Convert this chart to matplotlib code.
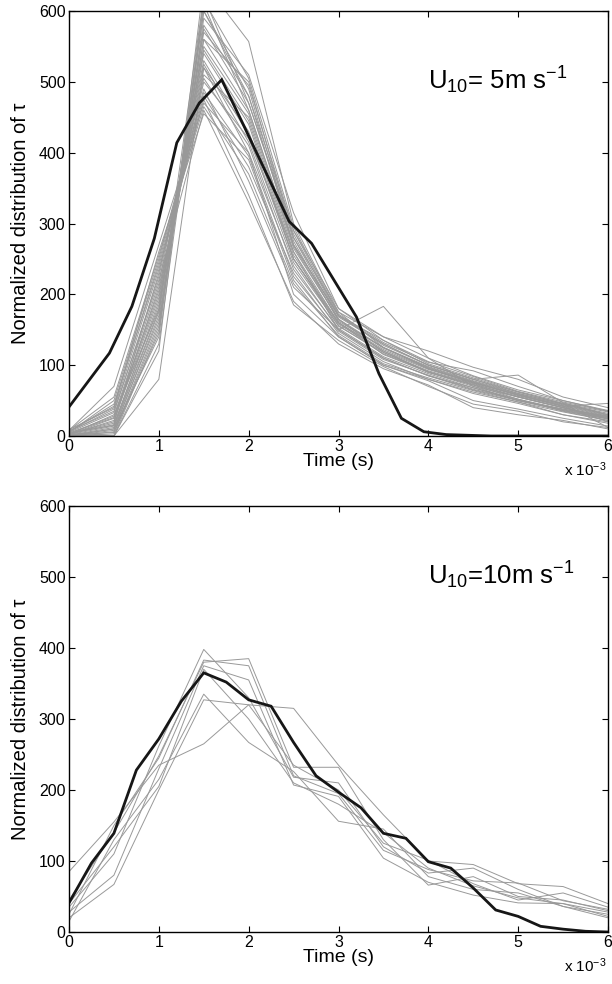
import matplotlib

matplotlib.use("Agg")
import matplotlib.pyplot as plt
import numpy as np

plt.rcParams["font.family"] = ["Liberation Sans", "DejaVu Sans"]
plt.rcParams["mathtext.fontset"] = "custom"
plt.rcParams["mathtext.rm"] = "Liberation Sans"
plt.rcParams["mathtext.it"] = "Liberation Sans:italic"
plt.rcParams["mathtext.default"] = "regular"

# time axis in units of 1e-3 s
t_gray = [0, 0.5, 1.0, 1.5, 2.0, 2.5, 3.0, 3.5, 4.0, 4.5, 5.0, 5.5, 6.0]

# U10 = 5 m/s : black curve
t_black_5 = [0, 0.45, 0.70, 0.95, 1.20, 1.45, 1.70, 1.95, 2.20, 2.45, 2.70, 2.95,
             3.20, 3.45, 3.70, 3.95, 4.20, 4.45, 4.70, 5.0, 5.5, 6.0]
black_5 = [41, 117, 183, 279, 414, 470, 503, 437, 370, 303, 272, 220,
           168, 88, 25, 6, 2, 1, 0, 0, 0, 0]

gray_5 = [
    [5, 0, 80, 520, 430, 250, 160, 120, 90, 70, 55, 40, 25],
    [0, 10, 140, 610, 460, 270, 170, 130, 100, 80, 60, 45, 30],
    [2, 30, 180, 580, 480, 290, 180, 140, 110, 85, 65, 50, 35],
    [8, 70, 270, 470, 400, 240, 150, 110, 85, 65, 50, 38, 28],
    [0, 0, 120, 640, 557, 300, 175, 125, 95, 75, 58, 42, 20],
    [3, 20, 210, 500, 420, 260, 160, 115, 90, 72, 52, 35, 22],
    [6, 45, 240, 480, 380, 230, 145, 105, 80, 62, 48, 30, 18],
    [1, 5, 160, 560, 500, 280, 165, 125, 98, 78, 60, 45, 32],
    [4, 15, 190, 540, 440, 250, 155, 118, 92, 74, 55, 40, 26],
    [0, 0, 150, 600, 480, 270, 170, 135, 105, 84, 63, 48, 35],
    [7, 35, 220, 460, 330, 190, 130, 95, 72, 40, 30, 22, 10],
    [2, 25, 200, 520, 400, 200, 140, 100, 80, 60, 46, 30, 20],
    [5, 50, 250, 490, 360, 210, 150, 183, 110, 70, 50, 36, 24],
    [0, 8, 170, 620, 470, 280, 175, 140, 120, 97, 80, 55, 40],
    [3, 18, 230, 510, 450, 260, 150, 110, 85, 68, 52, 38, 25],
    [9, 40, 260, 455, 390, 220, 140, 100, 78, 50, 38, 25, 14],
    [1, 12, 175, 570, 495, 290, 170, 128, 100, 80, 86, 47, 30],
    [4, 28, 215, 530, 425, 250, 158, 120, 94, 75, 58, 42, 28],
    [0, 0, 130, 590, 510, 315, 180, 135, 102, 82, 62, 46, 34],
    [6, 38, 235, 475, 340, 185, 135, 98, 70, 45, 35, 20, 12],
    [2, 22, 195, 550, 455, 265, 165, 118, 90, 72, 55, 40, 27],
    [0, 3, 155, 600, 490, 275, 162, 125, 96, 76, 58, 44, 30],
    [5, 33, 225, 505, 410, 235, 152, 112, 88, 68, 50, 36, 24],
    [8, 55, 255, 465, 370, 215, 142, 102, 82, 64, 48, 34, 22],
    [1, 10, 165, 575, 470, 285, 168, 130, 100, 80, 62, 46, 12],
    [3, 16, 185, 545, 445, 255, 160, 122, 95, 76, 57, 42, 46],
    [0, 6, 145, 615, 505, 295, 172, 132, 104, 92, 70, 50, 36],
    [4, 26, 205, 525, 415, 245, 156, 116, 91, 73, 56, 40, 27],
    [7, 42, 245, 485, 395, 225, 148, 108, 86, 66, 51, 37, 25],
    [2, 14, 178, 560, 460, 268, 164, 124, 97, 77, 59, 43, 29],
]

# U10 = 10 m/s : black curve
t_black_10 = [0, 0.25, 0.5, 0.75, 1.0, 1.25, 1.5, 1.75, 2.0, 2.25, 2.5, 2.75, 3.0,
              3.25, 3.5, 3.75, 4.0, 4.25, 4.5, 4.75, 5.0, 5.25, 5.5, 5.75, 6.0]
black_10 = [41, 97, 139, 228, 272, 325, 365, 352, 327, 318, 267, 220, 197,
            175, 139, 132, 99, 90, 62, 31, 22, 8, 4, 1, 0]

gray_10 = [
    [85, 155, 235, 265, 320, 315, 235, 165, 100, 95, 68, 64, 40],
    [45, 140, 248, 380, 385, 232, 232, 130, 66, 78, 50, 45, 30],
    [35, 110, 262, 398, 330, 218, 210, 120, 83, 90, 60, 36, 20],
    [28, 80, 230, 375, 355, 207, 191, 104, 70, 52, 41, 40, 28],
    [20, 67, 200, 327, 320, 235, 200, 125, 101, 68, 45, 55, 35],
    [15, 130, 215, 335, 267, 226, 156, 145, 78, 60, 55, 36, 25],
    [25, 150, 245, 383, 375, 220, 195, 115, 88, 72, 69, 44, 32],
    [40, 120, 205, 370, 300, 210, 180, 140, 90, 65, 48, 40, 22],
]

GRAY = "#999999"
BLACK = "#161616"


def draw_panel(ax, gray_lines, t_black, black, label):
    for values in gray_lines:
        ax.plot(t_gray, values, color=GRAY, linewidth=0.7)
    ax.plot(t_black, black, color=BLACK, linewidth=2.0, solid_joinstyle="miter")
    ax.set_xlim(0, 6)
    ax.set_ylim(0, 600)
    ax.set_xticks(range(7))
    ax.set_yticks(range(0, 601, 100))
    ax.tick_params(direction="in", top=True, right=True, length=4, width=0.8,
                   labelsize=11.5, pad=2.5)
    for spine in ax.spines.values():
        spine.set_linewidth(1.0)
    ax.set_xlabel("Time (s)", fontsize=14, labelpad=-1)
    ax.set_ylabel("Normalized distribution of \u03c4", fontsize=14.5, labelpad=6)
    ax.text(4.0, 490, label, fontsize=18.5)
    ax.text(0.918, -0.08, "x 10$^{-3}$", transform=ax.transAxes, fontsize=11,
            va="center", ha="left")


fig = plt.figure(figsize=(6.12, 9.84), dpi=100)
fig.patch.set_facecolor("white")

ax_top = fig.add_axes([69 / 612, 1 - 436 / 984, 539 / 612, 425 / 984])
draw_panel(ax_top, gray_5, t_black_5, black_5, "U$_{10}$= 5m s$^{-1}$")

ax_bot = fig.add_axes([69 / 612, 1 - 932 / 984, 539 / 612, 426 / 984])
draw_panel(ax_bot, gray_10, t_black_10, black_10, "U$_{10}$=10m s$^{-1}$")

fig.savefig("out.png", dpi=100)
plt.close(fig)
